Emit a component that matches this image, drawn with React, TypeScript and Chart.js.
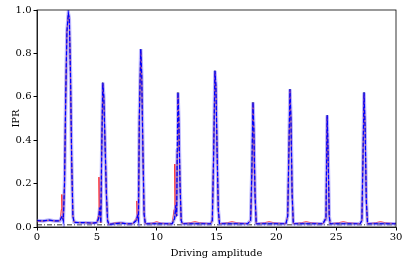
import React, { useEffect, useRef } from "react";
import { Chart, registerables } from "chart.js";
Chart.register(...registerables);

const mainX = [0, 0.5, 1.0, 1.5, 1.9, 2.05, 2.12, 2.2, 2.3, 2.4, 2.5, 2.62, 2.7, 2.8, 2.9, 3.0, 3.1, 3.5, 4.0, 4.6, 5.0,
  5.15, 5.25, 5.33, 5.42, 5.5, 5.58, 5.68, 5.8, 5.9, 6.0, 6.5, 7.0, 7.5, 8.0,
  8.3, 8.4, 8.48, 8.55, 8.67, 8.75, 8.85, 8.95, 9.05, 10, 11, 11.3,
  11.5, 11.6, 11.67, 11.72, 11.78, 11.85, 11.95, 12.05, 12.15, 13, 14, 14.5,
  14.65, 14.75, 14.87, 14.95, 15.05, 15.15, 15.25, 16.5, 17.6,
  17.85, 17.95, 18.05, 18.12, 18.22, 18.32, 19.5, 20.8,
  20.95, 21.05, 21.14, 21.22, 21.32, 21.42, 22.5, 23.9,
  24.08, 24.15, 24.2, 24.25, 24.32, 24.42, 24.5, 25.5, 27.0,
  27.15, 27.25, 27.33, 27.42, 27.52, 27.62, 29, 30];
const blueY = [0.03, 0.028, 0.032, 0.028, 0.028, 0.045, 0.05, 0.03, 0.2, 0.6, 0.9, 0.985, 0.96, 0.7, 0.3, 0.05, 0.022, 0.02, 0.02, 0.018, 0.02,
  0.04, 0.09, 0.02, 0.4, 0.665, 0.6, 0.4, 0.15, 0.03, 0.012, 0.015, 0.018, 0.015, 0.015,
  0.03, 0.05, 0.03, 0.5, 0.82, 0.7, 0.35, 0.06, 0.015, 0.015, 0.015, 0.015,
  0.04, 0.1, 0.05, 0.35, 0.62, 0.5, 0.2, 0.03, 0.015, 0.015, 0.015, 0.015,
  0.03, 0.3, 0.72, 0.65, 0.35, 0.08, 0.015, 0.015, 0.015,
  0.03, 0.25, 0.575, 0.45, 0.15, 0.015, 0.015, 0.015,
  0.05, 0.35, 0.635, 0.5, 0.15, 0.015, 0.015, 0.015,
  0.035, 0.04, 0.3, 0.515, 0.35, 0.05, 0.015, 0.015, 0.015,
  0.03, 0.35, 0.62, 0.45, 0.12, 0.015, 0.015, 0.015];

const redX = [0, 0.5, 1.0, 1.5, 1.95, 2.03, 2.08, 2.14, 2.2, 2.3, 2.4, 2.5, 2.62, 2.7, 2.8, 2.9, 3.0, 3.1, 3.5, 4.0, 4.6, 5.0,
  5.1, 5.18, 5.24, 5.33, 5.42, 5.5, 5.58, 5.68, 5.8, 5.9, 6.0, 6.5, 7.0, 7.5, 8.0,
  8.28, 8.35, 8.42, 8.48, 8.55, 8.67, 8.75, 8.85, 8.95, 9.05, 9.6, 10, 10.4, 11, 11.3,
  11.45, 11.52, 11.6, 11.67, 11.72, 11.78, 11.85, 11.95, 12.05, 12.15, 12.8, 13.2, 13.6, 14.5,
  14.65, 14.75, 14.87, 14.95, 15.05, 15.15, 15.25, 15.9, 16.3, 16.7, 17.6,
  17.82, 17.9, 17.97, 18.05, 18.12, 18.22, 18.32, 19.0, 19.4, 19.8, 20.8,
  20.95, 21.05, 21.14, 21.22, 21.32, 21.42, 22.1, 22.5, 22.9, 23.9,
  24.08, 24.15, 24.2, 24.25, 24.32, 24.42, 24.5, 25.2, 25.6, 26.0, 27.0,
  27.15, 27.25, 27.33, 27.42, 27.52, 27.62, 28.3, 28.7, 29.1, 30];
const redY = [0.025, 0.027, 0.03, 0.027, 0.03, 0.08, 0.15, 0.04, 0.03, 0.2, 0.6, 0.9, 0.98, 0.96, 0.7, 0.3, 0.05, 0.022, 0.02, 0.02, 0.018, 0.02,
  0.05, 0.23, 0.06, 0.02, 0.4, 0.66, 0.6, 0.4, 0.15, 0.03, 0.012, 0.02, 0.02, 0.015, 0.015,
  0.04, 0.12, 0.03, 0.03, 0.5, 0.81, 0.7, 0.35, 0.06, 0.015, 0.018, 0.024, 0.018, 0.015, 0.015,
  0.08, 0.29, 0.05, 0.05, 0.35, 0.61, 0.5, 0.2, 0.03, 0.015, 0.02, 0.024, 0.02, 0.015,
  0.03, 0.3, 0.71, 0.65, 0.35, 0.08, 0.015, 0.02, 0.024, 0.02, 0.015,
  0.03, 0.06, 0.25, 0.57, 0.45, 0.15, 0.015, 0.02, 0.024, 0.02, 0.015,
  0.05, 0.35, 0.63, 0.5, 0.15, 0.015, 0.02, 0.024, 0.02, 0.015,
  0.03, 0.035, 0.3, 0.51, 0.35, 0.05, 0.015, 0.02, 0.024, 0.02, 0.015,
  0.03, 0.35, 0.61, 0.45, 0.12, 0.015, 0.02, 0.024, 0.02, 0.015];

const baseX = [0, 30];
const baseY = [0.01, 0.01];

const xTicks = [0, 5, 10, 15, 20, 25, 30];
const yTicks = [0, 0.2, 0.4, 0.6, 0.8, 1.0];

const xLabel = "Driving amplitude";
const yLabel = "IPR";

const pts = (xs: number[], ys: number[]) => xs.map((x, i) => ({ x, y: ys[i] }));

const frame = {
  id: "frame",
  afterDatasetsDraw(chart: any) {
    const { ctx, chartArea: a } = chart;
    ctx.save();
    ctx.strokeStyle = "#000";
    ctx.lineWidth = 0.8;
    ctx.strokeRect(a.left, a.top, a.right - a.left, a.bottom - a.top);
    ctx.restore();
  },
};

export default function App() {
  const ref = useRef<HTMLCanvasElement>(null);
  useEffect(() => {
    document.body.style.margin = "0";
    const font = { family: "DejaVu Serif", size: 10 };
    const chart = new Chart(ref.current!, {
      type: "line",
      data: {
        datasets: [
          { data: pts(mainX, blueY), borderColor: "blue", borderWidth: 1.2, borderDash: [4, 2], pointRadius: 0, order: 1 },
          { data: pts(mainX, blueY), borderColor: "rgba(140,130,255,0.6)", borderWidth: 3.5, pointRadius: 0, order: 2 },
          { data: pts(redX, redY), borderColor: "rgba(255,0,0,0.85)", borderWidth: 1, pointRadius: 0, order: 3 },
          { data: pts(mainX, blueY), borderColor: "#000", borderWidth: 1, pointRadius: 0, order: 4 },
          { data: pts(baseX, baseY), borderColor: "#000", borderWidth: 0.8, borderDash: [5, 2, 1, 2], pointRadius: 0, order: 5 },
        ],
      },
      options: {
        animation: false,
        responsive: false,
        parsing: true,
        layout: { padding: { top: 10, right: 11, left: 0, bottom: 0 } },
        plugins: { legend: { display: false }, tooltip: { enabled: false } },
        elements: { line: { tension: 0 } },
        scales: {
          x: {
            type: "linear",
            min: 0,
            max: 30,
            afterBuildTicks: (s: any) => { s.ticks = xTicks.map((v) => ({ value: v })); },
            afterFit: (s: any) => { s.height = 32; },
            ticks: { color: "#000", font, padding: 1, maxRotation: 0 },
            grid: { drawOnChartArea: false, drawTicks: true, tickLength: 3.5, color: "#000" },
            border: { display: true, color: "#000", width: 0.8 },
            title: { display: true, text: xLabel, color: "#000", font, padding: { top: 0, bottom: 0 } },
          },
          y: {
            type: "linear",
            min: 0,
            max: 1,
            afterBuildTicks: (s: any) => { s.ticks = yTicks.map((v) => ({ value: v })); },
            afterFit: (s: any) => { s.width = 37; },
            ticks: { color: "#000", font, padding: 2, callback: (v: any) => Number(v).toFixed(1) },
            grid: { drawOnChartArea: false, drawTicks: true, tickLength: 3.5, color: "#000" },
            border: { display: true, color: "#000", width: 0.8 },
            title: { display: true, text: yLabel, color: "#000", font, padding: { top: 10, bottom: 0 } },
          },
        },
      },
      plugins: [frame],
    });
    return () => chart.destroy();
  }, []);
  return <canvas ref={ref} width={407} height={259} style={{ display: "block" }} />;
}
